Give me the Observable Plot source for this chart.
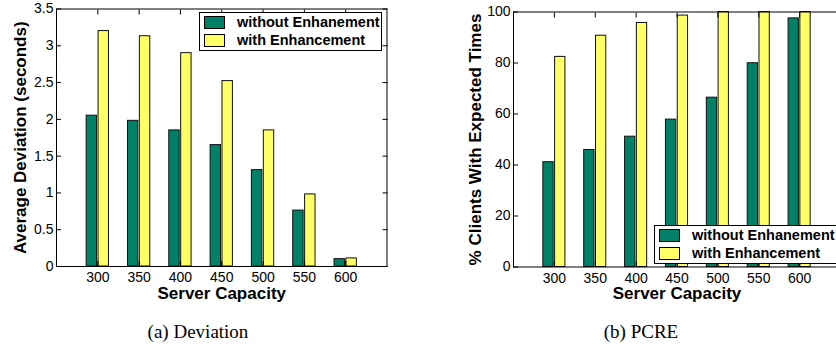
<!DOCTYPE html>
<html>
<head>
<meta charset="utf-8">
<script src="https://cdn.jsdelivr.net/npm/d3@7"></script>
<script src="https://cdn.jsdelivr.net/npm/@observablehq/plot@0.6"></script>
<style>
  html, body { margin: 0; padding: 0; background: #fff; overflow: hidden; }
  #page { position: relative; width: 836px; height: 350px; overflow: hidden; background: #fff; }
  .panel { position: absolute; top: 0; }
  .legend { position: absolute; background: #fff; border: 1px solid #000; box-sizing: border-box;
            width: 183px; height: 39px; font-family: "Liberation Sans", Arial, sans-serif;
            font-weight: bold; font-size: 14.5px; color: #000; }
  .legend .row { position: absolute; left: 4px; height: 14px; display: flex; align-items: center; }
  .legend .sw { width: 21px; height: 13px; border: 1px solid #000; box-sizing: border-box; margin-right: 12px; }
  .caption { position: absolute; width: 300px; text-align: center; font-family: "Liberation Serif", "Times New Roman", serif;
             font-size: 19px; color: #000; }
</style>
</head>
<body>
<div id="page"></div>
<script>
// ---- data ----
const capacities = [300, 350, 400, 450, 500, 550, 600];
const seriesNames = ["without Enhanement", "with Enhancement"];
const seriesColors = ["#008066", "#ffff66"];

const deviationWithout = [2.05, 1.98, 1.85, 1.65, 1.31, 0.76, 0.10];
const deviationWith    = [3.20, 3.13, 2.90, 2.52, 1.85, 0.98, 0.11];

const pcreWithout = [41.1, 45.9, 51.1, 57.8, 66.4, 79.9, 97.5];
const pcreWith    = [82.4, 90.7, 95.7, 98.6, 100, 100, 100];

const deviationTicks = [0, 0.5, 1, 1.5, 2, 2.5, 3, 3.5];
const pcreTicks = [0, 20, 40, 60, 80, 100];
const xTicks = capacities;

function rows(a, b) {
  const out = [];
  capacities.forEach((c, i) => {
    out.push({cap: c, series: 0, value: a[i]});
    out.push({cap: c, series: 1, value: b[i]});
  });
  return out;
}

const font = '"Liberation Sans", Arial, sans-serif';

function panel({data, yDomain, yTicks, yLabel, width, marginLeft, marginRight, marginTop, marginBottom, yLabelDx}) {
  const off = 7.2, half = 6.3;
  return Plot.plot({
    width, height: 300,
    marginLeft, marginRight, marginTop, marginBottom,
    style: {fontFamily: font, fontSize: "14px", color: "#000", background: "transparent", overflow: "visible"},
    x: {domain: [250, 650]},
    y: {domain: yDomain},
    marks: [
      Plot.rect(data, {
        x1: d => d.cap + (d.series === 0 ? -off : off) - half,
        x2: d => d.cap + (d.series === 0 ? -off : off) + half,
        y1: 0, y2: "value",
        fill: d => seriesColors[d.series],
        stroke: "#111", strokeWidth: 1
      }),
      Plot.frame({stroke: "#000", strokeWidth: 1}),
      Plot.axisX({anchor: "bottom", ticks: xTicks, tickSize: -5, tickPadding: 11, tickFormat: d => String(d), label: null, fontSize: 14}),
      Plot.axisX({anchor: "top", ticks: xTicks, tickSize: -5, tickFormat: () => "", label: null}),
      Plot.axisY({anchor: "left", ticks: yTicks, tickSize: -5, tickPadding: 8, tickFormat: d => String(d), label: null, fontSize: 14}),
      Plot.axisY({anchor: "right", ticks: yTicks, tickSize: -5, tickFormat: () => "", label: null}),
      Plot.text(["Server Capacity"], {text: d => d, frameAnchor: "bottom", dy: 27, lineAnchor: "middle",
        textAnchor: "middle", fontSize: 17, fontWeight: "bold", fill: "#000"}),
      Plot.text([yLabel], {text: d => d, frameAnchor: "left", dx: yLabelDx, rotate: -90, lineAnchor: "middle",
        textAnchor: "middle", fontSize: 17, fontWeight: "bold", fill: "#000"})
    ]
  });
}

const page = document.getElementById("page");

const left = panel({
  data: rows(deviationWithout, deviationWith),
  yDomain: [0, 3.5], yTicks: deviationTicks, yLabel: "Average Deviation (seconds)",
  width: 420, marginLeft: 56, marginRight: 33.5, marginTop: 8.5, marginBottom: 34, yLabelDx: -36
});
left.classList.add("panel");
left.style.left = "0px";
page.appendChild(left);

const right = panel({
  data: rows(pcreWithout, pcreWith),
  yDomain: [0, 100], yTicks: pcreTicks, yLabel: "% Clients With Expected Times",
  width: 430, marginLeft: 93, marginRight: 10, marginTop: 11.5, marginBottom: 33.5, yLabelDx: -38
});
right.classList.add("panel");
right.style.left = "420px";
page.appendChild(right);

function legend(x, y) {
  const div = document.createElement("div");
  div.className = "legend";
  div.style.left = x + "px";
  div.style.top = y + "px";
  seriesNames.forEach((name, i) => {
    const row = document.createElement("div");
    row.className = "row";
    row.style.top = (2.5 + i * 18) + "px";
    const sw = document.createElement("div");
    sw.className = "sw";
    sw.style.background = seriesColors[i];
    const t = document.createElement("span");
    t.textContent = name;
    row.appendChild(sw);
    row.appendChild(t);
    div.appendChild(row);
  });
  page.appendChild(div);
}
legend(199, 11.5);
legend(654, 224.5);

function caption(text, cx, cy) {
  const d = document.createElement("div");
  d.className = "caption";
  d.textContent = text;
  d.style.left = (cx - 150) + "px";
  d.style.top = (cy - 12) + "px";
  page.appendChild(d);
}
caption("(a) Deviation", 198, 333);
caption("(b) PCRE", 641, 333);
</script>
</body>
</html>
